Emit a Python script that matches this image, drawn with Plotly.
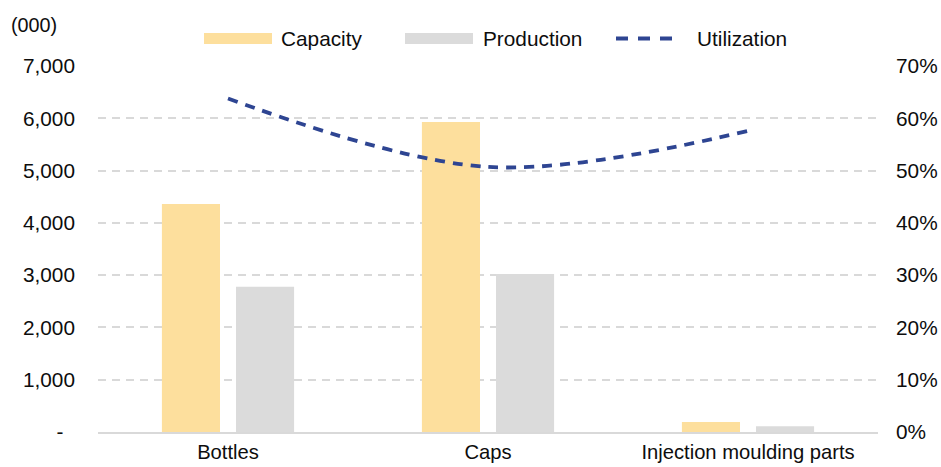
import plotly.graph_objects as go

# Capacity / production by product line (thousand units) and utilization rate
categories = ["Bottles", "Caps", "Injection moulding parts"]
capacity = [4360, 5930, 190]
production = [2780, 3020, 110]
utilization = [0.638, 0.507, 0.576]

left_ticks = [0, 1000, 2000, 3000, 4000, 5000, 6000, 7000]
left_ticktext = ["-\u00a0\u00a0", "1,000", "2,000", "3,000", "4,000", "5,000", "6,000", "7,000"]
right_ticks = [0, 0.1, 0.2, 0.3, 0.4, 0.5, 0.6, 0.7]

CAP_COLOR = "#FDDF9D"
PROD_COLOR = "#DBDBDB"
UTIL_COLOR = "#2E4592"
GRID_COLOR = "#D9D9D9"
TEXT_COLOR = "#0d0d0d"
FONT = "Liberation Sans, Arial, sans-serif"
FS = 20.8

W, H = 941, 467
L, R, T, B = 98, 63, 66, 35
PW, PH = W - L - R, H - T - B


def px(x):
    return (x - L) / PW


def py(y):
    return (H - B - y) / PH


fig = go.Figure()
fig.add_trace(go.Bar(x=categories, y=capacity, name="Capacity",
                     marker=dict(color=CAP_COLOR, line=dict(width=0)),
                     showlegend=False))
fig.add_trace(go.Bar(x=categories, y=production, name="Production",
                     marker=dict(color=PROD_COLOR, line=dict(width=0)),
                     showlegend=False))
fig.add_trace(go.Scatter(x=categories, y=utilization, name="Utilization",
                         yaxis="y2", mode="lines",
                         line=dict(color=UTIL_COLOR, width=3.8, dash="10px,8px",
                                   shape="spline", smoothing=1.0),
                         showlegend=False))

# Legend drawn as swatches + labels above the plot area
shapes = [
    dict(type="rect", xref="paper", yref="paper",
         x0=px(204), x1=px(272), y0=py(44), y1=py(33),
         fillcolor=CAP_COLOR, line=dict(width=0)),
    dict(type="rect", xref="paper", yref="paper",
         x0=px(405), x1=px(473), y0=py(44), y1=py(33),
         fillcolor=PROD_COLOR, line=dict(width=0)),
    dict(type="line", xref="paper", yref="paper",
         x0=px(616), x1=px(678), y0=py(38.5), y1=py(38.5),
         line=dict(color=UTIL_COLOR, width=4, dash="12px,10px")),
]
annotations = [
    dict(text="Capacity", x=px(279), y=py(38.5), xref="paper", yref="paper",
         xanchor="left", yanchor="middle", showarrow=False,
         font=dict(size=FS, color=TEXT_COLOR, family=FONT)),
    dict(text="Production", x=px(481), y=py(38.5), xref="paper", yref="paper",
         xanchor="left", yanchor="middle", showarrow=False,
         font=dict(size=FS, color=TEXT_COLOR, family=FONT)),
    dict(text="Utilization", x=px(695), y=py(38.5), xref="paper", yref="paper",
         xanchor="left", yanchor="middle", showarrow=False,
         font=dict(size=FS, color=TEXT_COLOR, family=FONT)),
    dict(text="(000)", x=px(9), y=py(25), xref="paper", yref="paper",
         xanchor="left", yanchor="middle", showarrow=False,
         font=dict(size=FS - 1, color=TEXT_COLOR, family=FONT)),
]

fig.update_layout(
    width=W, height=H,
    margin=dict(l=L, r=R, t=T, b=B, pad=0),
    paper_bgcolor="white", plot_bgcolor="white",
    font=dict(family=FONT, size=FS, color=TEXT_COLOR),
    barmode="group", bargap=0.43, bargroupgap=0.216,
    showlegend=False,
    shapes=shapes, annotations=annotations,
    xaxis=dict(
        type="category", automargin=False,
        showgrid=False, showline=True, linecolor=GRID_COLOR, linewidth=1.8,
        ticks="", ticklabelstandoff=1,
        tickfont=dict(size=20.2, color=TEXT_COLOR, family=FONT),
        zeroline=False,
    ),
    yaxis=dict(
        range=[0, 7000], tickvals=left_ticks, ticktext=left_ticktext,
        automargin=False,
        showgrid=True, gridcolor=GRID_COLOR, gridwidth=1.7, griddash="8px,6px",
        zeroline=False, showline=False, ticks="", ticklabelstandoff=22,
        tickfont=dict(size=FS, color=TEXT_COLOR, family=FONT),
    ),
    yaxis2=dict(
        range=[0, 0.7], tickvals=right_ticks, tickformat=".0%",
        overlaying="y", side="right", automargin=False,
        showgrid=False, zeroline=False, showline=False, ticks="",
        ticklabelstandoff=17,
        tickfont=dict(size=FS, color=TEXT_COLOR, family=FONT),
    ),
)

fig.write_html("out.html")
